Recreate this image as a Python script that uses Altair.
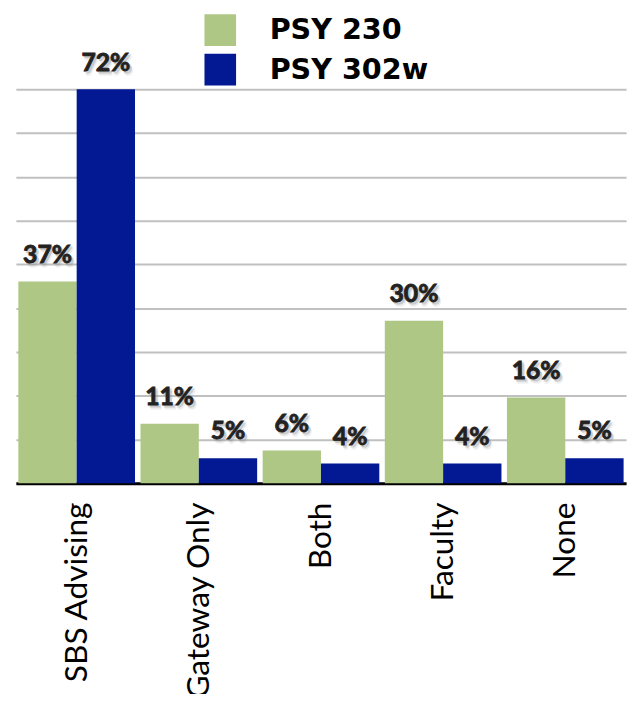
import altair as alt
import pandas as pd

categories = ["SBS Advising", "Gateway Only", "Both", "Faculty", "None"]
series_names = ["PSY 230", "PSY 302w"]
psy230 = [36.9, 10.9, 6.0, 29.7, 15.7]
psy302w = [72.0, 4.6, 3.6, 3.6, 4.6]
labels230 = ["37%", "11%", "6%", "30%", "16%"]
labels302w = ["72%", "5%", "4%", "4%", "5%"]
grid_values = [0, 8, 16, 24, 32, 40, 48, 56, 64, 72]

rows = []
for c, v, l in zip(categories, psy230, labels230):
    rows.append({"cat": c, "series": series_names[0], "value": v, "label": l})
for c, v, l in zip(categories, psy302w, labels302w):
    rows.append({"cat": c, "series": series_names[1], "value": v, "label": l})
df = pd.DataFrame(rows)

GREEN = "#AEC785"
BLUE = "#031994"

x = alt.X("cat:N", sort=categories, title=None,
          scale=alt.Scale(paddingInner=0.045, paddingOuter=0.02),
          axis=alt.Axis(labelAngle=-90, labelFont="Lato", labelFontSize=32,
                        labelColor="#000", labelPadding=19, ticks=False,
                        domainColor="#000", domainWidth=3, grid=False,
                        labelLimit=400))
xoff = alt.XOffset("series:N", sort=series_names,
                   scale=alt.Scale(paddingInner=0, paddingOuter=0))
y = alt.Y("value:Q", title=None,
          scale=alt.Scale(domain=[0, 72], nice=False),
          axis=alt.Axis(values=grid_values, labels=False, ticks=False,
                        domain=False, grid=True, gridColor="#c0c0c0",
                        gridWidth=2))

base = alt.Chart(df)

bars = base.mark_bar().encode(
    x=x, xOffset=xoff, y=y,
    color=alt.Color("series:N", sort=series_names, title=None,
                    scale=alt.Scale(domain=series_names, range=[GREEN, BLUE]),
                    legend=alt.Legend(symbolType="square")),
)

def label_layer(dx, dy, color, opacity, stroke_w):
    return base.mark_text(fontSize=25, fontWeight="bold", font="Lato",
                          baseline="alphabetic", dx=dx, dy=dy,
                          color=color, opacity=opacity,
                          stroke=color, strokeWidth=stroke_w).encode(
        x=alt.X("cat:N", sort=categories), xOffset=xoff, y="value:Q",
        text="label:N")

shadow2 = label_layer(3, -15, "#aaa", 0.2, 1)
shadow1 = label_layer(2, -17, "#888", 0.35, 1)
texts = label_layer(0, -19, "#222", 1, 0.9)

chart = alt.layer(bars, shadow2, shadow1, texts).properties(
    width=618, height=399,
    autosize=alt.AutoSizeParams(type="none"),
    padding={"left": 8, "top": 78, "right": 4, "bottom": 209},
).configure_view(stroke=None).configure_legend(
    orient="none", legendX=191, legendY=-76, padding=0,
    symbolSize=1024, symbolStrokeWidth=0, symbolOpacity=1,
    labelFont="DejaVu Sans", labelFontWeight="bold", labelFontSize=29,
    labelColor="#000", labelOffset=34, rowPadding=8, labelLimit=400,
)

chart.save("out.html", embed_options={"renderer": "svg", "actions": False})
